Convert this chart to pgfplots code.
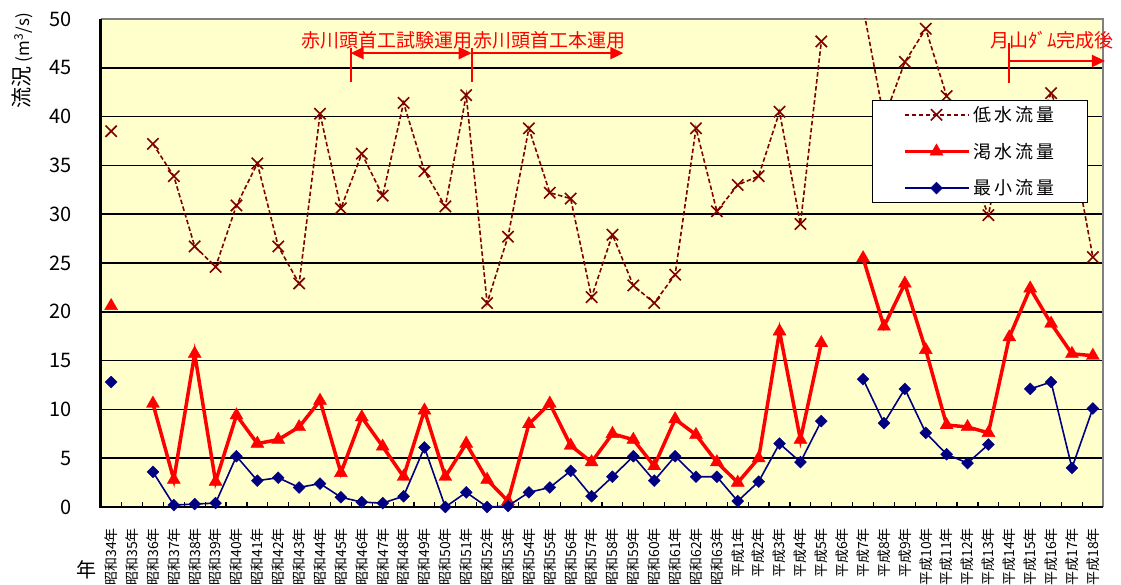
\documentclass[border=0pt]{standalone}
\usepackage{fontspec}
\setmainfont{Noto Sans CJK JP}
\usepackage{pgfplots}
\pgfplotsset{compat=1.18}
\usepackage{pgfplotstable}
\usetikzlibrary{arrows.meta}

\definecolor{bgyellow}{HTML}{FFFFCC}
\definecolor{lowred}{HTML}{800000}
\definecolor{navyblue}{HTML}{000080}
\newcommand{\ls}{\hspace{3bp}}

% i: 0 = 昭和34年 ... 47 = 平成18年
\pgfplotstableread{
i low dry min
0 38.5 20.6 12.8
1 nan nan nan
2 37.2 10.6 3.6
3 33.9 2.8 0.2
4 26.7 15.7 0.3
5 24.6 2.6 0.4
6 30.9 9.4 5.2
7 35.2 6.5 2.7
8 26.7 6.9 3.0
9 22.9 8.2 2.0
10 40.3 10.9 2.4
11 30.6 3.5 1.0
12 36.2 9.2 0.5
13 31.9 6.2 0.4
14 41.4 3.1 1.1
15 34.4 9.9 6.1
16 30.8 3.1 0.0
17 42.2 6.5 1.5
18 20.9 2.8 0.0
19 27.7 0.6 0.1
20 38.8 8.5 1.5
21 32.2 10.6 2.0
22 31.6 6.3 3.7
23 21.5 4.6 1.1
24 27.9 7.5 3.1
25 22.7 6.9 5.2
26 20.9 4.2 2.7
27 23.8 9.0 5.2
28 38.8 7.4 3.1
29 30.3 4.6 3.1
30 33.0 2.5 0.6
31 33.9 5.0 2.6
32 40.5 18.0 6.5
33 29.0 6.9 4.6
34 47.7 16.8 8.8
35 nan nan nan
36 51.2 25.5 13.1
37 39.8 18.5 8.6
38 45.6 22.9 12.1
39 49.0 16.1 7.6
40 42.1 8.4 5.4
41 35.5 8.2 4.5
42 29.9 7.6 6.4
43 40.6 17.4 nan
44 37.0 22.4 12.1
45 42.4 18.8 12.8
46 37.2 15.7 4.0
47 25.6 15.5 10.1
}\flowdata

\begin{document}
\begin{tikzpicture}
\begin{axis}[
  width=1002.6bp, height=488bp, scale only axis,
  xmin=-0.5, xmax=47.5, ymin=0, ymax=50,
  axis line style={draw=none},
  axis background/.style={fill=bgyellow},
  /pgf/number format/assume math mode=true,
  xtick={0,...,47},
  xticklabels={昭和34年,昭和35年,昭和36年,昭和37年,昭和38年,昭和39年,昭和40年,昭和41年,昭和42年,昭和43年,昭和44年,昭和45年,昭和46年,昭和47年,昭和48年,昭和49年,昭和50年,昭和51年,昭和52年,昭和53年,昭和54年,昭和55年,昭和56年,昭和57年,昭和58年,昭和59年,昭和60年,昭和61年,昭和62年,昭和63年,平成1年,平成2年,平成3年,平成4年,平成5年,平成6年,平成7年,平成8年,平成9年,平成10年,平成11年,平成12年,平成13年,平成14年,平成15年,平成16年,平成17年,平成18年},
  xticklabel style={rotate=90, anchor=east, inner sep=0pt, font=\fontsize{14bp}{14bp}\selectfont},
  xticklabel shift=21bp,
  major x tick style={draw=none},
  minor xtick={0.5,1.5,...,46.5},
  minor x tick style={black, line width=1.2bp},
  minor tick length=5bp,
  tick align=inside,
  xtick pos=lower, ytick pos=left,
  ytick={0,5,...,50},
  major y tick style={draw=none},
  yticklabel style={anchor=east, inner sep=0pt, font=\fontsize{20bp}{20bp}\selectfont},
  yticklabel shift=29bp,
  ymajorgrids, major grid style={black, line width=1.5bp},
  unbounded coords=jump,
  clip mode=individual,
  legend style={at={(0.9845,0.834)}, anchor=north east, draw=black, line width=1bp,
    fill=white, font=\fontsize{18bp}{18bp}\selectfont, inner xsep=30bp, inner ysep=3bp,
    row sep=14bp, nodes={inner sep=3bp}},
  legend cell align=left,
  legend image code/.code={\draw[mark repeat=2,mark phase=2,#1] plot coordinates {(0bp,0bp) (32bp,0bp) (64bp,0bp)};},
]
\coordinate (pll) at (rel axis cs:0,0);
\draw[gray, line width=2bp] (rel axis cs:0,1) -- (rel axis cs:1,1) -- (rel axis cs:1,0);
\draw[black, line width=2.5bp] (rel axis cs:0,1) -- (rel axis cs:0,0) -- (rel axis cs:1,0);

\addplot[lowred, line width=1.6bp, dash pattern=on 4.5bp off 2.5bp, mark=x, mark size=8bp,
  mark options={solid, line width=1.6bp}] table[x=i, y=low]{\flowdata};
\addlegendentry{低\ls 水\ls 流\ls 量}
\addplot[red, line width=3.5bp, mark=triangle*, mark size=7.5bp,
  mark options={solid, line width=0.4bp}] table[x=i, y=dry]{\flowdata};
\addlegendentry{渇\ls 水\ls 流\ls 量}
\addplot[navyblue, line width=1.6bp, mark=square*, mark size=4.2bp,
  mark options={solid, rotate=45, line width=0.4bp}] table[x=i, y=min]{\flowdata};
\addlegendentry{最\ls 小\ls 流\ls 量}

% annotations
\draw[red, line width=2bp] (axis cs:11.47,47.0) -- (axis cs:11.47,43.5);
\draw[red, line width=2bp] (axis cs:17.26,47.0) -- (axis cs:17.26,43.5);
\draw[red, line width=2bp, {Triangle[length=13bp,width=12bp]}-{Triangle[length=13bp,width=12bp]}]
  (axis cs:11.47,46.5) -- (axis cs:17.26,46.5);
\draw[red, line width=2bp, -{Triangle[length=13bp,width=12bp]}]
  (axis cs:17.26,46.5) -- (axis cs:24.52,46.5);
\node[red, anchor=east, inner sep=0pt, font=\fontsize{19bp}{19bp}\selectfont] at (axis cs:17.33,47.8) {赤川頭首工試験運用};
\node[red, anchor=west, inner sep=0pt, font=\fontsize{19bp}{19bp}\selectfont] at (axis cs:17.33,47.8) {赤川頭首工本運用};
\draw[red, line width=2bp] (axis cs:42.98,47.5) -- (axis cs:42.98,43.4);
\draw[red, line width=2bp, -{Triangle[length=13bp,width=12bp]}]
  (axis cs:42.98,45.7) -- (axis cs:47.58,45.7);
\node[red, inner sep=0pt, font=\fontsize{19bp}{19bp}\selectfont] at (axis cs:45.04,47.8) {月山ﾀﾞﾑ完成後};

% axis titles
\node[rotate=90, anchor=east, inner sep=0pt] at ([xshift=-78.7bp, yshift=6bp]rel axis cs:0,1)
  {{\fontsize{21bp}{21bp}\selectfont 流況}\hspace{4bp}{\fontsize{17bp}{17bp}\selectfont (m\textsuperscript{3}/s)}};
\node[inner sep=0pt, font=\fontsize{20bp}{20bp}\selectfont] at ([xshift=-13.7bp, yshift=-63bp]rel axis cs:0,0) {年};
\end{axis}
\pgfresetboundingbox
\path (pll) ++(-100.7bp,-78bp) rectangle ++(1121bp,585bp);
\end{tikzpicture}
\end{document}
